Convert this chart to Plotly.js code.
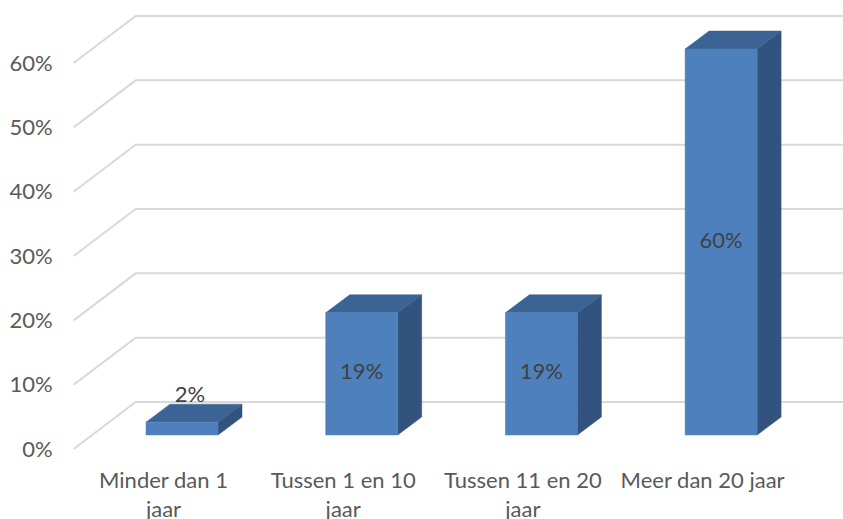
<!DOCTYPE html>
<html>
<head>
<meta charset="utf-8">
<script src="https://cdn.plot.ly/plotly-3.0.1.min.js"></script>
<style>html,body{margin:0;padding:0;background:#fff;}#chart{width:843px;height:519px;}</style>
</head>
<body>
<div id="chart"></div>
<script>
// ---- data ----
const categories = ["Minder dan 1<br>jaar", "Tussen 1 en 10<br>jaar", "Tussen 11 en 20<br>jaar", "Meer dan 20 jaar"];
const values = [2, 19, 19, 60];
const labels = ["2%", "19%", "19%", "60%"];
const yTicks = [0, 10, 20, 30, 40, 50, 60];
const yTickText = ["0%", "10%", "20%", "30%", "40%", "50%", "60%"];

// ---- style / geometry constants (pixels) ----
const PX_CAT = 179.7;   // pixels per category step
const PX_PCT = 6.433;   // pixels per percent
const W = 843, H = 519;
const plotL = 70, plotR = 843, plotT = 0, plotB = 453;
const cat0px = 163.5, zeroPx = 449;
const wallDx = 62 / PX_CAT, wallDy = 47 / PX_PCT;
const frontDx = 18.5 / PX_CAT, frontDy = 14 / PX_PCT;
const depthDx = 24 / PX_CAT, depthDy = 18 / PX_PCT;
const barW = 72 / PX_CAT;
const floorLeft = -0.5;

const xMin = -(cat0px - plotL) / PX_CAT;
const xMax = xMin + (plotR - plotL) / PX_CAT;
const yMin = -(plotB - zeroPx) / PX_PCT;
const yMax = (zeroPx - plotT) / PX_PCT;

const FRONT = "#4E80BD", TOP = "#3B6394", SIDE = "#32537D", GRID = "#D9D9D9";
const FONT = "Lato, 'Open Sans', sans-serif";

const traces = [];
// gridlines: side wall + back wall
yTicks.forEach(v => {
  traces.push({
    type: "scatter", mode: "lines", hoverinfo: "skip", showlegend: false,
    x: [floorLeft, floorLeft + wallDx, xMax + 1],
    y: [v, v + wallDy, v + wallDy],
    line: { color: GRID, width: 2 }
  });
});

function poly(xs, ys, color) {
  traces.push({
    type: "scatter", mode: "lines", fill: "toself", fillcolor: color,
    hoverinfo: "skip", showlegend: false,
    x: xs.concat([xs[0]]), y: ys.concat([ys[0]]),
    line: { color: color, width: 0.5 }
  });
}

values.forEach((v, i) => {
  const xl = i + frontDx - barW / 2, xr = i + frontDx + barW / 2;
  const yb = frontDy, yt = frontDy + v;
  // side face
  poly([xr, xr, xr + depthDx, xr + depthDx], [yb, yt, yt + depthDy, yb + depthDy], SIDE);
  // top face
  poly([xl, xr, xr + depthDx, xl + depthDx], [yt, yt, yt + depthDy, yt + depthDy], TOP);
  // front face
  poly([xl, xr, xr, xl], [yb, yb, yt, yt], FRONT);
});

// data labels
const lx = [], ly = [];
values.forEach((v, i) => {
  if (v < 5) {
    lx.push(i + frontDx + depthDx * 0.33);
    ly.push(frontDy + v + depthDy + 8 / PX_PCT);
  } else {
    lx.push(i + frontDx);
    ly.push(frontDy + v / 2);
  }
});
traces.push({
  type: "scatter", mode: "text", x: lx, y: ly, text: labels,
  textposition: "middle center", cliponaxis: false, hoverinfo: "skip", showlegend: false,
  textfont: { family: FONT, size: 22, color: "#404040" }
});

const layout = {
  width: W, height: H,
  margin: { l: plotL, r: W - plotR, t: plotT, b: H - plotB, pad: 0 },
  paper_bgcolor: "#ffffff", plot_bgcolor: "#ffffff",
  showlegend: false,
  xaxis: {
    range: [xMin, xMax], tickmode: "array", tickvals: [0, 1, 2, 3], ticktext: categories,
    showgrid: false, zeroline: false, showline: false,
    ticks: "outside", ticklen: 8, tickcolor: "rgba(0,0,0,0)",
    tickfont: { family: FONT, size: 22, color: "#595959" }, fixedrange: true
  },
  yaxis: {
    range: [yMin, yMax], tickmode: "array", tickvals: yTicks, ticktext: yTickText,
    showgrid: false, zeroline: false, showline: false,
    ticks: "outside", ticklen: 12, tickcolor: "rgba(0,0,0,0)",
    tickfont: { family: FONT, size: 22, color: "#595959" }, fixedrange: true
  }
};

Plotly.newPlot("chart", traces, layout, { displayModeBar: false, staticPlot: true });
</script>
</body>
</html>
